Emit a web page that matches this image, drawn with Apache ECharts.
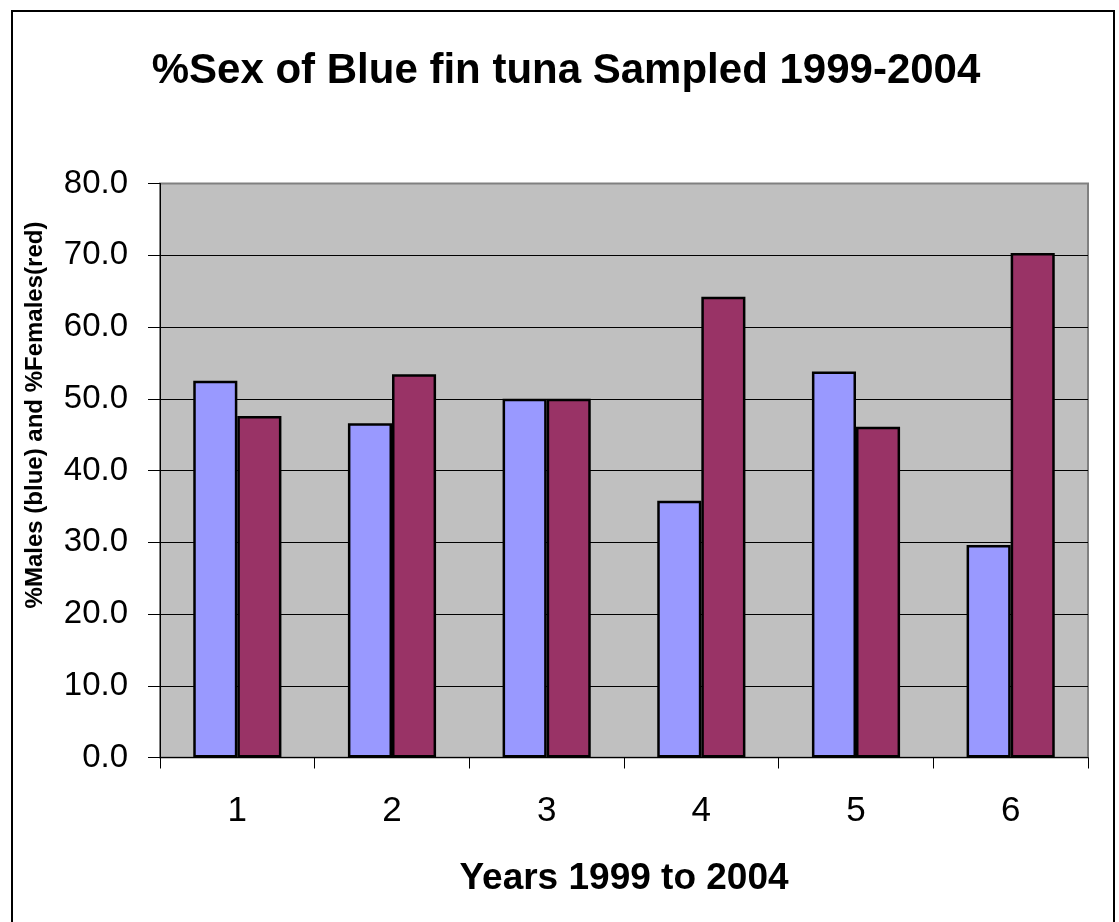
<!DOCTYPE html>
<html>
<head>
<meta charset="utf-8">
<script src="https://cdn.jsdelivr.net/npm/echarts@6/dist/echarts.min.js"></script>
<style>
html,body{margin:0;padding:0;background:#fff;}
#chart{width:1119px;height:922px;}
</style>
</head>
<body>
<div id="chart"></div>
<script>
const categories = ['1', '2', '3', '4', '5', '6'];
const males = [52.5, 46.6, 50.0, 35.8, 53.8, 29.6];
const females = [47.6, 53.4, 50.0, 64.2, 46.1, 70.3];
const yTicks = [0, 10, 20, 30, 40, 50, 60, 70, 80];

const FONT = "'Liberation Sans', Arial, sans-serif";
const chart = echarts.init(document.getElementById('chart'));

const splitColors = yTicks.map((t, i) => i === yTicks.length - 1 ? '#808080' : '#000000');

chart.setOption({
  backgroundColor: '#ffffff',
  animation: false,
  title: {
    text: '%Sex of Blue fin tuna Sampled 1999-2004',
    left: 561,
    textAlign: 'center',
    top: 45,
    textStyle: { fontFamily: FONT, fontSize: 42, fontWeight: 'bold', color: '#000' }
  },
  grid: {
    left: 160, right: 31, top: 183.5, bottom: 164.5,
    show: true, backgroundColor: '#C0C0C0', borderColor: '#808080', borderWidth: 2
  },
  xAxis: {
    type: 'category',
    data: categories,
    name: 'Years 1999 to 2004',
    nameLocation: 'middle',
    nameGap: 103,
    nameTextStyle: { fontFamily: FONT, fontSize: 37, fontWeight: 'bold', color: '#000' },
    axisLine: { lineStyle: { color: '#000', width: 1 } },
    axisTick: { show: true, length: 11, lineStyle: { color: '#000' } },
    axisLabel: { margin: 36, fontFamily: FONT, fontSize: 35, color: '#000' }
  },
  yAxis: {
    type: 'value',
    min: 0, max: 80, interval: 10,
    axisLine: { show: true, lineStyle: { color: '#000', width: 1 } },
    axisTick: { show: true, length: 12, lineStyle: { color: '#000' } },
    axisLabel: {
      margin: 32, fontFamily: FONT, fontSize: 33, color: '#000',
      formatter: v => v.toFixed(1)
    },
    splitLine: { show: true, lineStyle: { color: splitColors, width: 1 } }
  },
  graphic: [
    {
      type: 'rect',
      shape: { x: 12, y: 11, width: 1102, height: 940 },
      style: { fill: 'none', stroke: '#000', lineWidth: 2 },
      z: 100
    },
    {
      type: 'text',
      x: 35, y: 415,
      rotation: Math.PI / 2,
      style: {
        text: '%Males (blue) and %Females(red)',
        font: "bold 24px 'Liberation Sans', Arial, sans-serif",
        fill: '#000',
        align: 'center',
        verticalAlign: 'middle'
      }
    }
  ],
  series: [
    {
      name: 'Males', type: 'bar', data: males,
      barGap: '0%', barCategoryGap: '43%',
      itemStyle: { color: '#9999FF', borderColor: '#000', borderWidth: 2.5 }
    },
    {
      name: 'Females', type: 'bar', data: females,
      barGap: '0%', barCategoryGap: '43%',
      itemStyle: { color: '#993366', borderColor: '#000', borderWidth: 2.5 }
    }
  ]
});
</script>
</body>
</html>
